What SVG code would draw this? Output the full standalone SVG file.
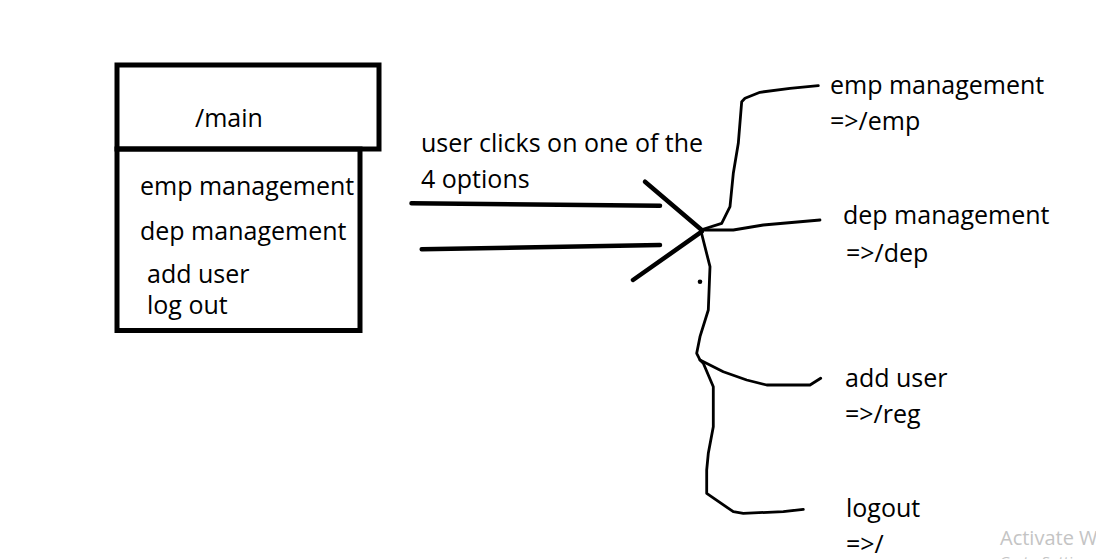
<svg xmlns="http://www.w3.org/2000/svg" width="1096" height="559" viewBox="0 0 1096 559">
<style>
text{font-family:"Open Sans","Liberation Sans",sans-serif;font-size:25px;fill:#000}
.thick{fill:none;stroke:#000;stroke-width:4.5;stroke-linecap:round;stroke-linejoin:round}
.thin{fill:none;stroke:#000;stroke-width:2.8;stroke-linecap:round;stroke-linejoin:round}
.wm{font-size:20px;fill:#c4c4c4}
</style>
<rect width="1096" height="559" fill="#fff"/>
<g id="main-node">
<rect x="117" y="65" width="262" height="84" fill="none" stroke="#000" stroke-width="5"/>
<rect x="117" y="149" width="243" height="181.5" fill="none" stroke="#000" stroke-width="5"/>
<text x="195" y="127">/main</text>
<text x="140" y="195">emp management</text>
<text x="140" y="240">dep management</text>
<text x="147" y="283">add user</text>
<text x="147" y="314">log out</text>
</g>
<g id="caption">
<text x="421" y="152">user clicks on one of the</text>
<text x="421" y="188">4 options</text>
</g>
<g id="connectors">
<path class="thick" d="M411.5,203.3 L660,205.7"/>
<path class="thick" d="M421.7,249.3 L660,245"/>
<path class="thick" d="M645,181.7 L701.7,230"/>
<path class="thick" d="M633,280 L701.7,231.7"/>
<circle cx="700" cy="281.7" r="2.3" fill="#000"/>
<path class="thin" d="M700.7,230 L721.7,223.3 L730,206.7 L733.3,173.3 L738.3,143.3 L741.7,101.7 L745,98.3 L760,92.3 L790,88.3 L818.3,85.7"/>
<path class="thin" d="M700.7,230 L733.3,230 L763.3,225 L820,220"/>
<path class="thin" d="M700.7,230 L710,266.7 L708.3,310 L700,336.7 L696.7,353.3 L700,360 L723.3,371.7 L746.7,380 L766.7,385 L810,385 L820.7,378.3"/>
<path class="thin" d="M700,360 L703.3,363.3 L713.3,386.7 L713.3,426.7 L708.3,453.3 L706.7,470 L706.7,493.3 L733.3,511.7 L743.3,513.3 L783.3,511.7 L803.3,509.3"/>
</g>
<g id="emp-node">
<text x="830" y="94">emp management</text>
<text x="830" y="130">=&gt;/emp</text>
</g>
<g id="dep-node">
<text x="843" y="224">dep management</text>
<text x="846" y="262">=&gt;/dep</text>
</g>
<g id="reg-node">
<text x="845" y="387">add user</text>
<text x="845" y="423">=&gt;/reg</text>
</g>
<g id="logout-node">
<text x="846" y="517">logout</text>
<text x="846" y="553">=&gt;/</text>
</g>
<g id="watermark">
<text class="wm" x="1000" y="545">Activate W</text>
<text class="wm" x="1000" y="567" style="font-size:15px">Go to Settings</text>
</g>
</svg>
